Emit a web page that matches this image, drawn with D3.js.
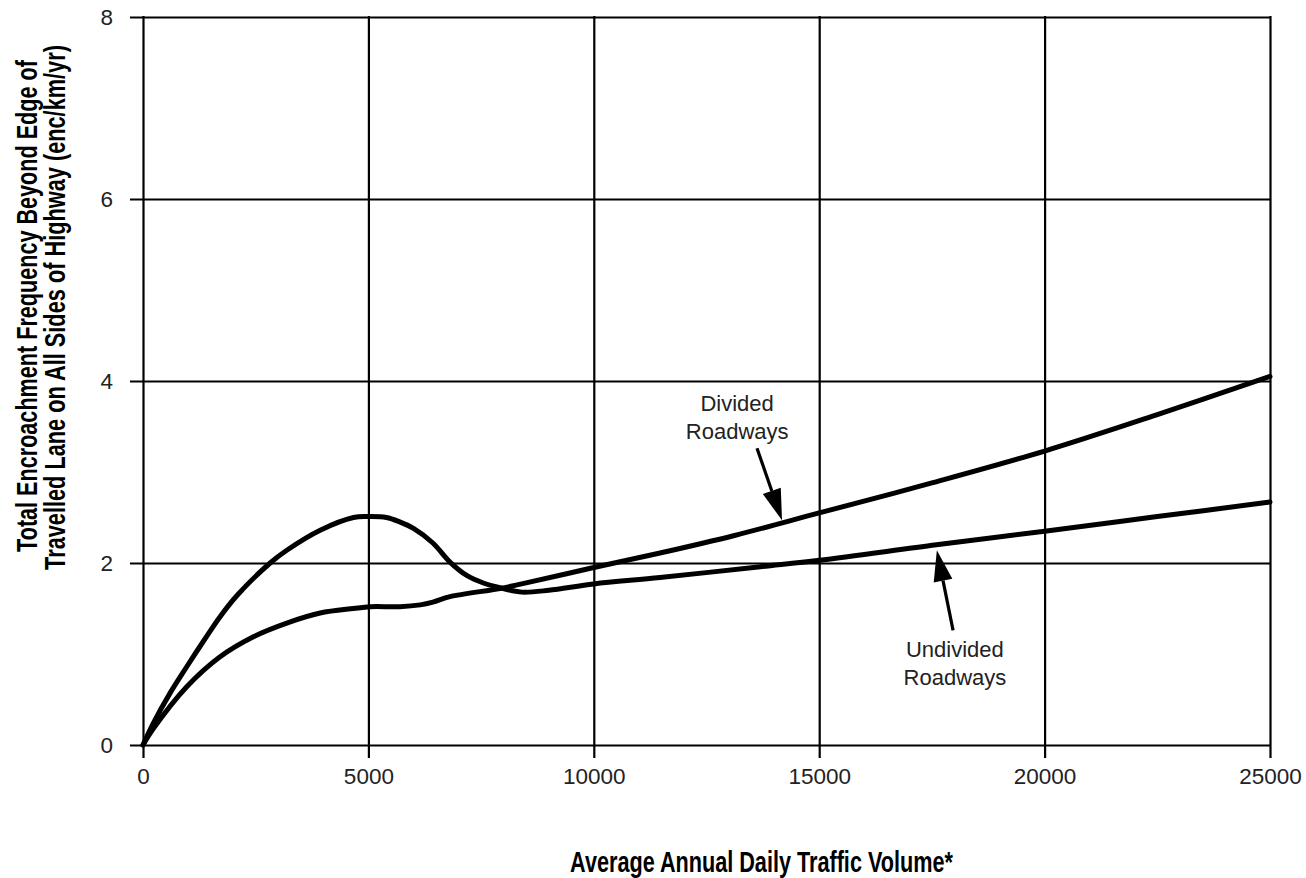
<!DOCTYPE html>
<html>
<head>
<meta charset="utf-8">
<script src="https://cdn.jsdelivr.net/npm/d3@7"></script>
<style>
  html, body { margin: 0; padding: 0; background: #fff; }
  svg { display: block; }
  text { font-family: "Liberation Sans", Arial, Helvetica, sans-serif; }
</style>
</head>
<body>
<svg id="chart" width="1306" height="878"></svg>
<script>
// Average annual daily traffic (ADT) vs. encroachment frequency (enc/km/yr)
const xTicks = [0, 5000, 10000, 15000, 20000, 25000];
const yTicks = [0, 2, 4, 6, 8];

const dividedADT = [0, 230, 970, 1710, 2450, 3190, 3930, 4670, 5040, 5700, 6150, 6430, 6810, 7920, 8400, 10000, 11470, 13100, 15000, 17500, 20000, 22500, 25000];
const dividedFreq = [0, 0.18, 0.64, 0.97, 1.19, 1.34, 1.45, 1.50, 1.52, 1.52, 1.54, 1.57, 1.63, 1.72, 1.77, 1.95, 2.11, 2.30, 2.55, 2.88, 3.23, 3.63, 4.05];

const undividedADT = [0, 230, 600, 970, 1340, 1710, 2080, 2820, 3190, 3930, 4670, 5000, 5400, 5700, 6000, 6430, 6810, 7190, 7550, 7990, 8400, 9000, 10000, 11470, 13700, 15000, 17600, 20000, 22500, 25000];
const undividedFreq = [0, 0.24, 0.57, 0.86, 1.14, 1.41, 1.64, 2.00, 2.14, 2.36, 2.50, 2.51, 2.50, 2.45, 2.38, 2.22, 2.01, 1.86, 1.78, 1.72, 1.68, 1.70, 1.77, 1.84, 1.96, 2.03, 2.20, 2.35, 2.51, 2.67];

const svg = d3.select("#chart");
const m = { left: 143, right: 1270, top: 17, bottom: 745, ext: 13 };

const x = d3.scaleLinear().domain([0, 25000]).range([m.left, m.right]);
const y = d3.scaleLinear().domain([0, 8]).range([m.bottom, m.top]);

// Horizontal grid lines with value labels
const yAxis = svg.append("g")
  .attr("transform", `translate(${m.left - m.ext},0)`)
  .call(d3.axisLeft(y).tickValues(yTicks).tickFormat(d3.format("d"))
    .tickSize(-(m.right - m.left + m.ext)).tickPadding(17));
yAxis.select(".domain").remove();
yAxis.selectAll(".tick line").attr("stroke", "#000").attr("stroke-width", 2.2);
yAxis.selectAll(".tick text").attr("font-size", 22.5).attr("fill", "#222");

// Vertical grid lines with ADT labels
const xAxis = svg.append("g")
  .attr("transform", `translate(0,${m.bottom + m.ext})`)
  .call(d3.axisBottom(x).tickValues(xTicks).tickFormat(d3.format("d"))
    .tickSize(-(m.bottom + m.ext - m.top + 1)).tickPadding(10));
xAxis.select(".domain").remove();
xAxis.selectAll(".tick line").attr("stroke", "#000").attr("stroke-width", 2.2);
xAxis.selectAll(".tick text").attr("font-size", 22.5).attr("fill", "#222");

// Curves
const line = d3.line().x(d => x(d[0])).y(d => y(d[1])).curve(d3.curveCatmullRom.alpha(0.5));
const series = [
  d3.zip(dividedADT, dividedFreq),
  d3.zip(undividedADT, undividedFreq)
];
svg.append("g").selectAll("path").data(series).join("path")
  .attr("d", line)
  .attr("fill", "none")
  .attr("stroke", "#000")
  .attr("stroke-width", 5)
  .attr("stroke-linejoin", "round")
  .attr("stroke-linecap", "round");

// Callout labels and arrows (ADT, frequency)
const callouts = [
  { lines: ["Divided", "Roadways"], at: [13180, 3.67], tail: [13620, 3.26], tip: [14175, 2.47] },
  { lines: ["Undivided", "Roadways"], at: [18010, 0.97], tail: [17970, 1.26], tip: [17610, 2.14] }
];
const cg = svg.append("g");
callouts.forEach(c => {
  const t = cg.append("text")
    .attr("x", x(c.at[0])).attr("y", y(c.at[1]))
    .attr("text-anchor", "middle").attr("font-size", 22).attr("fill", "#222");
  c.lines.forEach((s, i) => t.append("tspan").attr("x", x(c.at[0])).attr("dy", i ? 28 : 0).text(s));

  const x0 = x(c.tail[0]), y0 = y(c.tail[1]), x1 = x(c.tip[0]), y1 = y(c.tip[1]);
  const ang = Math.atan2(y1 - y0, x1 - x0);
  const headLen = 31, headW = 9.5;
  const bx = x1 - headLen * Math.cos(ang), by = y1 - headLen * Math.sin(ang);
  cg.append("line").attr("x1", x0).attr("y1", y0).attr("x2", bx).attr("y2", by)
    .attr("stroke", "#000").attr("stroke-width", 3.2);
  const px = -Math.sin(ang) * headW, py = Math.cos(ang) * headW;
  cg.append("path")
    .attr("d", `M${x1},${y1}L${bx + px},${by + py}L${bx - px},${by - py}Z`)
    .attr("fill", "#000");
});

// Axis titles: bold, horizontally condensed to the given length
function condensedTitle(sel, cx, cy, rot, len) {
  sel.attr("text-anchor", "middle")
    .attr("font-size", 29).attr("font-weight", "bold").attr("fill", "#000");
  const natural = sel.node().getComputedTextLength();
  sel.attr("transform", `translate(${cx},${cy}) rotate(${rot}) scale(${len / natural},1)`);
}

condensedTitle(
  svg.append("text").text("Average Annual Daily Traffic Volume*"),
  761.5, 872, 0, 383);

const yTitle = [
  { text: "Total Encroachment Frequency Beyond Edge of", cx: 37, cy: 306, len: 492 },
  { text: "Travelled Lane on All Sides of Highway (enc/km/yr)", cx: 65, cy: 307.5, len: 525 }
];
yTitle.forEach(d => condensedTitle(svg.append("text").text(d.text), d.cx, d.cy, -90, d.len));
</script>
</body>
</html>
